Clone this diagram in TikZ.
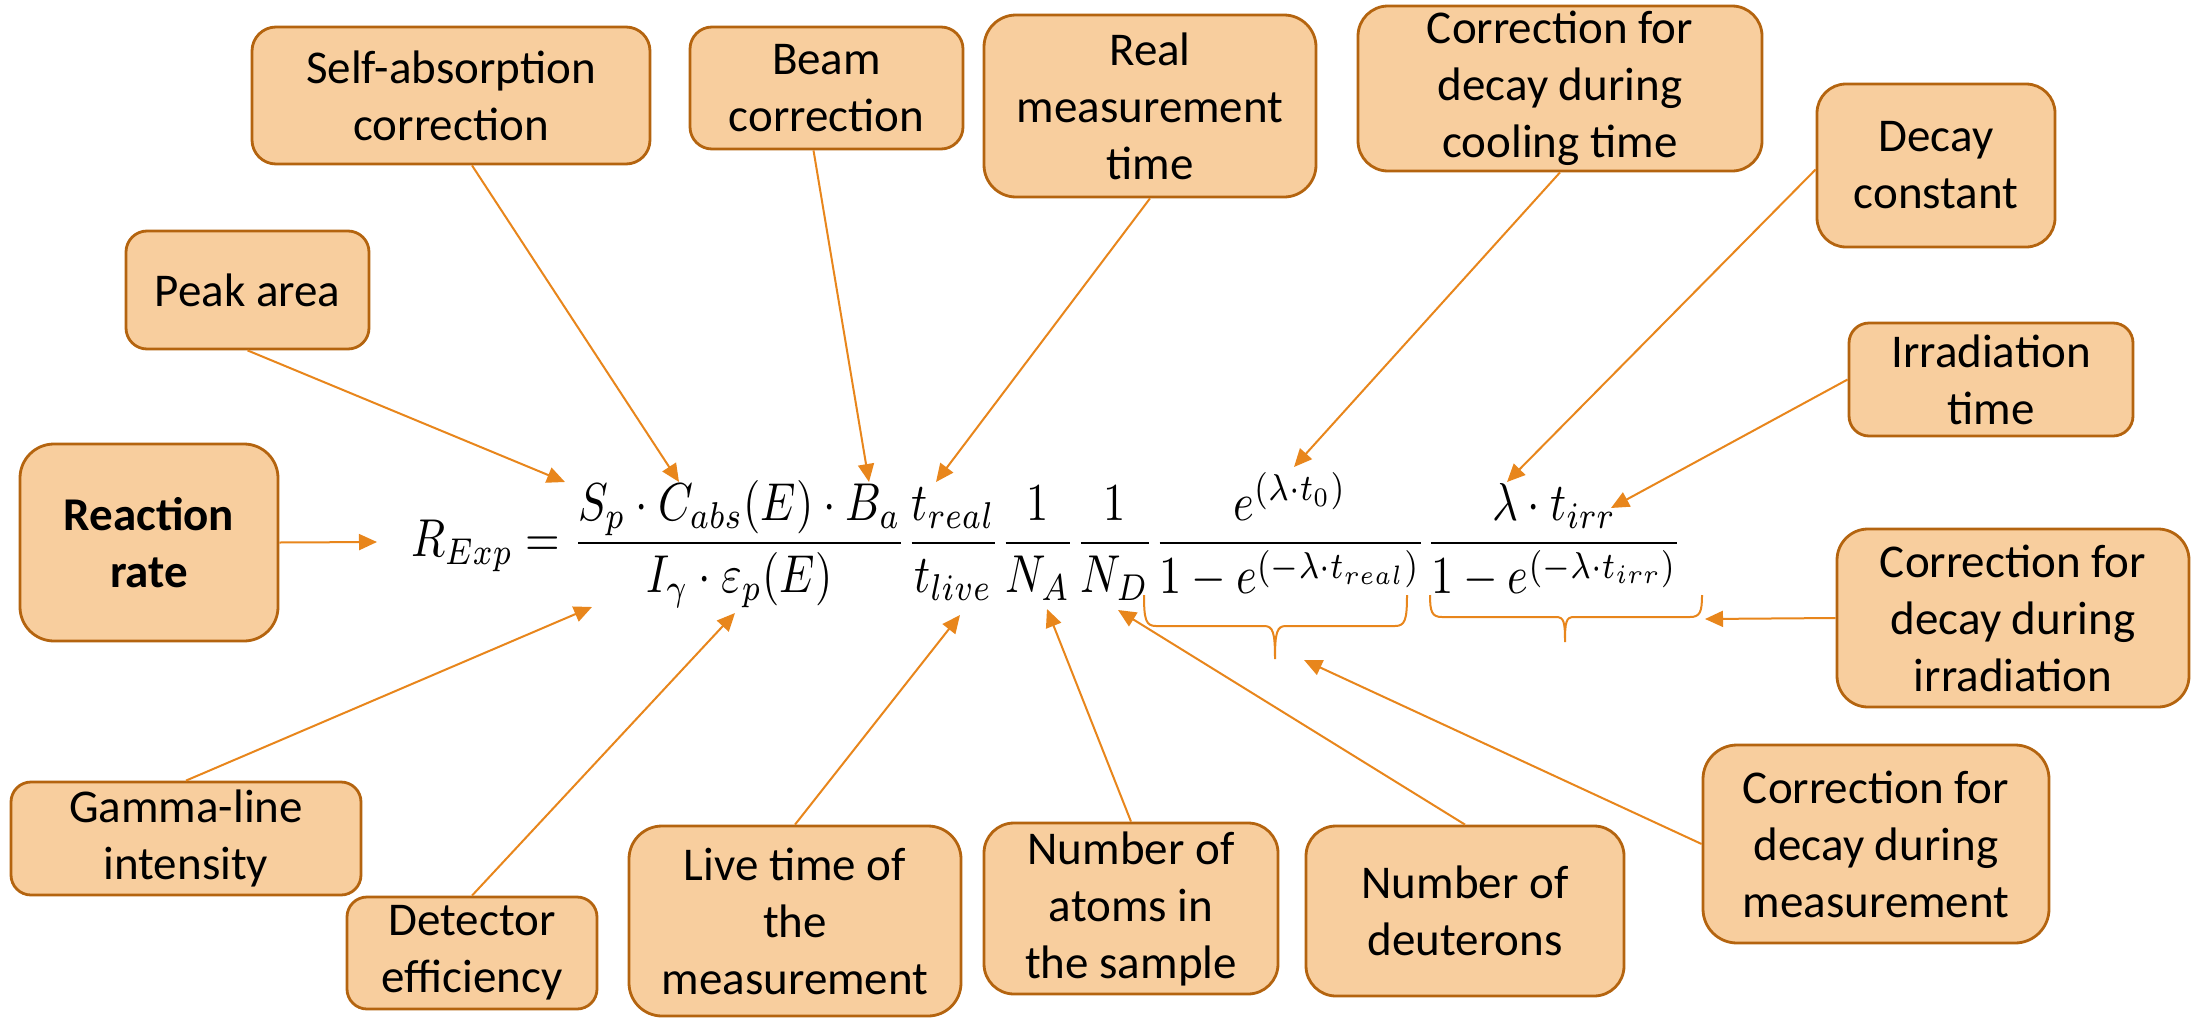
\documentclass[tikz,border=0pt]{standalone}
\usepackage[no-math]{fontspec}
\setmainfont{Carlito}
\usepackage{graphicx}
\usetikzlibrary{arrows.meta}
\definecolor{boxfill}{HTML}{F8CE9E}
\definecolor{boxline}{HTML}{B4640F}
\definecolor{arr}{HTML}{E8861C}
\newsavebox\eqbox
\newlength\eqw
\begin{document}
\sbox\eqbox{$\displaystyle R_{Exp}=\frac{S_p\cdot C_{abs}(E)\cdot B_a}{I_\gamma\cdot\varepsilon_p(E)}\frac{t_{real}}{t_{live}}\frac{1}{N_A}\frac{1}{N_D}\frac{e^{(\lambda\cdot t_0)}}{1-e^{(-\lambda\cdot t_{real})}}\frac{\lambda\cdot t_{irr}}{1-e^{(-\lambda\cdot t_{irr})}}$}%
\setlength\eqw{\wd\eqbox}%
\begin{tikzpicture}[x=1pt,y=-1pt,
  box/.style={draw=boxline, fill=boxfill, line width=2.8pt, inner sep=0pt, align=center,
    font=\fontsize{47}{57}\selectfont},
  conn/.style={draw=arr, line width=2pt, -{Triangle[length=18pt,width=16pt]}},
  bracepath/.style={draw=arr, line width=2pt}]
\useasboundingbox (0,0) rectangle (2201,1020);
\fill[white] (0,0) rectangle (2201,1020);
\pgfmathsetmacro\eqs{1271/\eqw}
\pgfmathsetmacro\eqsy{1.2*\eqs}
% equation
\node[anchor=base west, inner sep=0pt] (eq) at (411,{543+2.5*\eqsy}) {\scalebox{\eqs}[\eqsy]{\usebox\eqbox}};
% boxes
\node[box, minimum width=258pt, minimum height=197pt, rounded corners=34pt] (rr) at (149,542.5) {\bfseries Reaction\\\bfseries rate};
\node[box, minimum width=243pt, minimum height=118pt, rounded corners=21pt] (peak) at (247.5,290) {Peak area};
\node[box, minimum width=398pt, minimum height=137pt, rounded corners=24pt] (selfabs) at (451,95.5) {Self-absorption\\correction};
\node[box, minimum width=273pt, minimum height=122pt, rounded corners=22pt] (beam) at (826.5,88) {Beam\\correction};
\node[box, minimum width=332pt, minimum height=182pt, rounded corners=32pt] (real) at (1150,106) {Real\\measurement\\time};
\node[box, minimum width=404pt, minimum height=165pt, rounded corners=30pt] (cool) at (1560,88.5) {Correction for\\decay during\\cooling time};
\node[box, minimum width=238pt, minimum height=163pt, rounded corners=29pt] (decay) at (1936,165.5) {Decay\\constant};
\node[box, minimum width=284pt, minimum height=113pt, rounded corners=20pt] (irrt) at (1991,379.5) {Irradiation\\time};
\node[box, minimum width=352pt, minimum height=178pt, rounded corners=31pt] (cirr) at (2013,618) {Correction for\\decay during\\irradiation};
\node[box, minimum width=346pt, minimum height=198pt, rounded corners=34pt] (cmeas) at (1876,844) {Correction for\\decay during\\measurement};
\node[box, minimum width=318pt, minimum height=170pt, rounded corners=30pt] (deut) at (1465,911) {Number of\\deuterons};
\node[box, minimum width=294pt, minimum height=171pt, rounded corners=30pt] (atoms) at (1131,908.5) {Number of\\atoms in\\the sample};
\node[box, minimum width=332pt, minimum height=190pt, rounded corners=33pt] (live) at (795,921) {Live time of\\the\\measurement};
\node[box, minimum width=250pt, minimum height=112pt, rounded corners=20pt] (det) at (472,953) {Detector\\efficiency};
\node[box, minimum width=350pt, minimum height=113pt, rounded corners=20pt] (gamma) at (186,838.5) {Gamma-line\\intensity};
% arrow targets
\coordinate (trr) at (377,542);
\coordinate (tpeak) at (565,482);
\coordinate (tself) at (679,482);
\coordinate (tbeam) at (869,482);
\coordinate (treal) at (936,482);
\coordinate (tcool) at (1294,467);
\coordinate (tdecay) at (1507,482);
\coordinate (tirrt) at (1611,508);
\coordinate (tcirr) at (1705,619);
\coordinate (tcmeas) at (1304,660);
\coordinate (tdeut) at (1118,610);
\coordinate (tatoms) at (1047,609);
\coordinate (tlive) at (960,615);
\coordinate (tdet) at (735,613);
\coordinate (tgamma) at (592,607);
% braces
\draw[bracepath] (1144,595) .. controls (1144,620) and (1146,626) .. (1156,626) -- (1264,626)
  .. controls (1273,626) and (1275,632) .. (1275,659)
  .. controls (1275,632) and (1277,626) .. (1286,626) -- (1395,626)
  .. controls (1405,626) and (1407,620) .. (1407,595);
\draw[bracepath] (1430,595) .. controls (1430,612) and (1432,617) .. (1442,617) -- (1556,617)
  .. controls (1564,617) and (1565,622) .. (1565,642)
  .. controls (1565,622) and (1566,617) .. (1574,617) -- (1690,617)
  .. controls (1700,617) and (1702,612) .. (1702,595);
% connectors
\draw[conn] (rr.east) -- (trr);
\draw[conn] (peak.south) -- (tpeak);
\draw[conn] ([xshift=21pt]selfabs.south) -- (tself);
\draw[conn] ([xshift=-13pt]beam.south) -- (tbeam);
\draw[conn] (real.south) -- (treal);
\draw[conn] (cool.south) -- (tcool);
\draw[conn] ([yshift=-4pt]decay.west) -- (tdecay);
\draw[conn] (irrt.west) -- (tirrt);
\draw[conn] (cirr.west) -- (tcirr);
\draw[conn] (cmeas.west) -- (tcmeas);
\draw[conn] (deut.north) -- (tdeut);
\draw[conn] (atoms.north) -- (tatoms);
\draw[conn] (live.north) -- (tlive);
\draw[conn] (det.north) -- (tdet);
\draw[conn] (gamma.north) -- (tgamma);
\end{tikzpicture}
\end{document}
